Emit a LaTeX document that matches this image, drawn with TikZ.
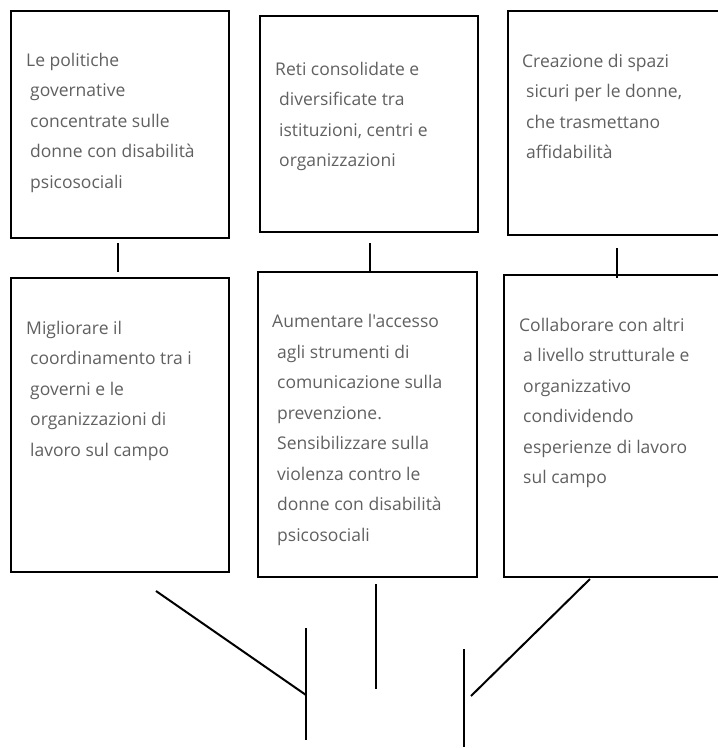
\documentclass[tikz,border=0pt]{standalone}
\usepackage{fontspec}
\setmainfont{Open Sans}[Ligatures=TeXOff]
\usepackage{tikz}

\definecolor{txtgray}{HTML}{606060}
\tikzset{
  box/.style={draw=black, line width=2pt, inner sep=0pt},
  % anchored at the baseline of the last line
  boxtext/.style={anchor=base west, align=left, inner sep=0pt, text=txtgray,
    font=\fontsize{17.5}{30.5}\selectfont},
  link/.style={line width=2pt},
}

\begin{document}
\begin{tikzpicture}[x=1pt,y=-1pt]
\clip (0,0) rectangle (718,748);

% upper row
\node[box, minimum width=218pt, minimum height=227pt] (politiche) at (120,124.5) {};
\node[box, minimum width=218pt, minimum height=216pt] (reti) at (369,124) {};
\node[box, minimum width=232pt, minimum height=224pt] (spazi) at (624,123) {};

\node[boxtext] (politichetxt) at (30,188) {\hspace*{-4pt}Le politiche\\governative\\concentrate sulle\\donne con disabilità\\psicosociali};
\node[boxtext] (retitxt) at (279,166.5) {\hspace*{-4pt}Reti consolidate e\\diversificate tra\\istituzioni, centri e\\organizzazioni};
\node[boxtext] (spazitxt) at (526,158.5) {\hspace*{-4pt}Creazione di spazi\\sicuri per le donne,\\che trasmettano\\affidabilità};

% lower row
\node[box, minimum width=218pt, minimum height=294pt] (coord) at (120,425) {};
\node[box, minimum width=219pt, minimum height=305pt] (accesso) at (367.5,424.5) {};
\node[box, minimum width=236pt, minimum height=302pt] (collab) at (622,426) {};

\node[boxtext] (coordtxt) at (30,456) {\hspace*{-4pt}Migliorare il\\coordinamento tra i\\governi e le\\organizzazioni di\\lavoro sul campo};
\node[boxtext] (accessotxt) at (277,541) {\hspace*{-5pt}Aumentare l'accesso\\agli strumenti di\\comunicazione sulla\\prevenzione.\\Sensibilizzare sulla\\violenza contro le\\donne con disabilità\\psicosociali};
\node[boxtext] (collabtxt) at (523,483.5) {\hspace*{-4pt}Collaborare con altri\\a livello strutturale e\\organizzativo\\condividendo\\esperienze di lavoro\\sul campo};

% short links between the rows
\coordinate (l1a) at (118,243); \coordinate (l1b) at (118,272);
\coordinate (l2a) at (370,243); \coordinate (l2b) at (370,272);
\coordinate (l3a) at (617,248); \coordinate (l3b) at (617,278);
\foreach \i in {1,2,3} {
\draw[link] (l\i a) -- (l\i b);
}

% loose strokes at the bottom
\coordinate (s1a) at (156,591); \coordinate (s1b) at (306,695);
\coordinate (s2a) at (306,628); \coordinate (s2b) at (306,740);
\coordinate (s3a) at (376,584); \coordinate (s3b) at (376,689);
\coordinate (s4a) at (464,649); \coordinate (s4b) at (464,747);
\coordinate (s5a) at (590,579); \coordinate (s5b) at (471,696);
\foreach \i in {1,...,5} {
\draw[link] (s\i a) -- (s\i b);
}
\end{tikzpicture}
\end{document}
